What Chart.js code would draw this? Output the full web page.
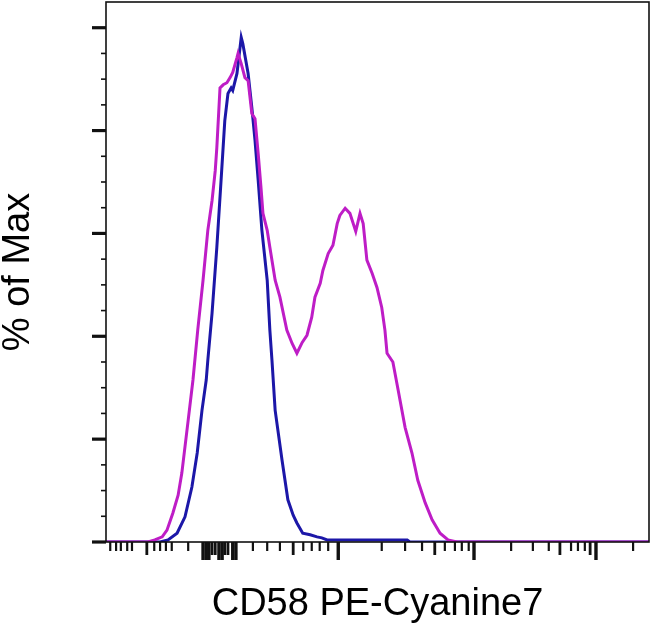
<!DOCTYPE html>
<html><head><meta charset="utf-8">
<script src="https://cdn.jsdelivr.net/npm/chart.js@4.4.1/dist/chart.umd.min.js"></script>
<style>html,body{margin:0;padding:0;background:#fff;overflow:hidden}#wrap{width:650px;height:629px;position:relative}</style>
</head><body><div id="wrap"><canvas id="c" width="650" height="629"></canvas></div>
<script>
// CD58 PE-Cyanine7 stained sample (magenta) - channel / % of Max
const stainedX = [0,79,92,106,115,126,136,143,155,164,173,183,192,200,206,209,215,221,228,234,239,247,249,255,262,268,275,281,287,292,296,304,309,319,328,341,351,360,370,379,388,394,404,409,419,428,436,441,451,460,471,479,485,492,502,511,520,526,530,541,551,564,577,588,602,615,630,645,662,1024];
const stainedY = [0,0,0.4,1.0,2.3,5.6,9.1,13.4,23.7,31.5,41.2,50.9,60.6,66.4,72.2,76.7,88.3,88.9,89.3,90.3,91.3,94.2,95.0,93.0,90.3,89.7,83.3,82.3,75.5,69.3,63.9,60.6,57.3,50.9,47.6,41.2,38.6,36.7,38.8,40.2,43.7,47.6,50.3,52.8,56.1,57.7,61.9,63.5,64.9,63.9,60.4,63.9,61.9,54.8,52.2,49.5,45.6,41.2,36.7,35.0,29.5,22.3,17.3,12.0,7.6,4.3,1.7,0.4,0,0];
// Control (blue)
const controlX = [0,102,117,134,149,162,172,181,189,192,200,209,217,224,230,236,239,247,255,258,268,275,281,287,294,304,309,313,319,332,343,353,360,371,385,398,407,417,568,573,1024];
const controlY = [0,0,0.4,1.7,4.9,10.7,17.3,25.6,31.5,35.3,44.5,57.3,70.3,81.9,87.2,88.3,87.8,91.1,98.1,96.9,91.1,84.5,78.1,70.3,60.6,50.9,41.2,35.3,25.6,15.9,8.2,5.2,3.7,1.7,1.4,1.0,0.8,0.4,0.4,0,0];

// Axis tick values
const xMajorTicks = [183,189,194,213,219,239,245,438,694,924];
const xMediumTicks = [77,200,206,224,230,353,620,856,913];
const xMinorTicks = [8,19,28,40,49,91,102,113,124,155,277,304,328,372,388,403,419,520,564,596,639,658,671,684,764,805,835,877,890,903,994];
const yMajorTicks = [0,20,40,60,80,100];
const yMinorTicks = [5,10,15,25,30,35,45,50,55,65,70,75,85,90,95];

const FONT = "Arial, 'Liberation Sans', sans-serif";

const tickPlugin = {
  id: 'flowTicks',
  afterDraw(chart) {
    const ctx = chart.ctx, a = chart.chartArea;
    const xs = chart.scales.x, ys = chart.scales.y;
    ctx.save();
    ctx.strokeStyle = '#111';
    ctx.lineCap = 'butt';
    // frame
    ctx.lineWidth = 1.6;
    ctx.strokeRect(a.left, a.top, a.right - a.left, a.bottom - a.top);
    const xt = (vals, len, w) => {
      ctx.lineWidth = w;
      vals.forEach(v => {
        const p = xs.getPixelForValue(v);
        ctx.beginPath(); ctx.moveTo(p, a.bottom); ctx.lineTo(p, a.bottom + len); ctx.stroke();
      });
    };
    const yt = (vals, len, w) => {
      ctx.lineWidth = w;
      vals.forEach(v => {
        const p = ys.getPixelForValue(v);
        ctx.beginPath(); ctx.moveTo(a.left, p); ctx.lineTo(a.left - len, p); ctx.stroke();
      });
    };
    xt(xMinorTicks, 9, 2.2);
    xt(xMediumTicks, 13, 2.8);
    xt(xMajorTicks, 18, 3.4);
    yt(yMinorTicks, 5, 1.6);
    yt(yMajorTicks, 14, 3.2);
    ctx.restore();
  }
};

new Chart(document.getElementById('c'), {
  type: 'line',
  data: {
    datasets: [
      { label: 'CD58 PE-Cyanine7', data: stainedX.map((x, i) => ({x, y: stainedY[i]})),
        borderColor: '#BE1DC6', borderWidth: 3, pointRadius: 0, tension: 0, fill: false },
      { label: 'Control', data: controlX.map((x, i) => ({x, y: controlY[i]})),
        borderColor: '#1C17A8', borderWidth: 3, pointRadius: 0, tension: 0, fill: false }
    ]
  },
  options: {
    responsive: false,
    animation: false,
    devicePixelRatio: 1,
    layout: { padding: { top: 2, right: 1, left: 0, bottom: 0 } },
    plugins: { legend: { display: false }, tooltip: { enabled: false } },
    scales: {
      x: {
        type: 'linear', min: 0, max: 1024,
        ticks: { display: false }, grid: { display: false }, border: { display: false },
        title: { display: true, text: 'CD58 PE-Cyanine7', color: '#000',
          font: { family: FONT, size: 38, lineHeight: 1 }, padding: { top: 0, bottom: 5 } },
        afterFit(s) { s.height = 87; }
      },
      y: {
        type: 'linear', min: 0, max: 105,
        ticks: { display: false }, grid: { display: false }, border: { display: false },
        title: { display: true, text: '% of Max', color: '#000',
          font: { family: FONT, size: 38, lineHeight: 1 }, padding: { top: 0, bottom: 0 } },
        afterFit(s) { s.width = 106; }
      }
    }
  },
  plugins: [tickPlugin]
});
</script></body></html>
